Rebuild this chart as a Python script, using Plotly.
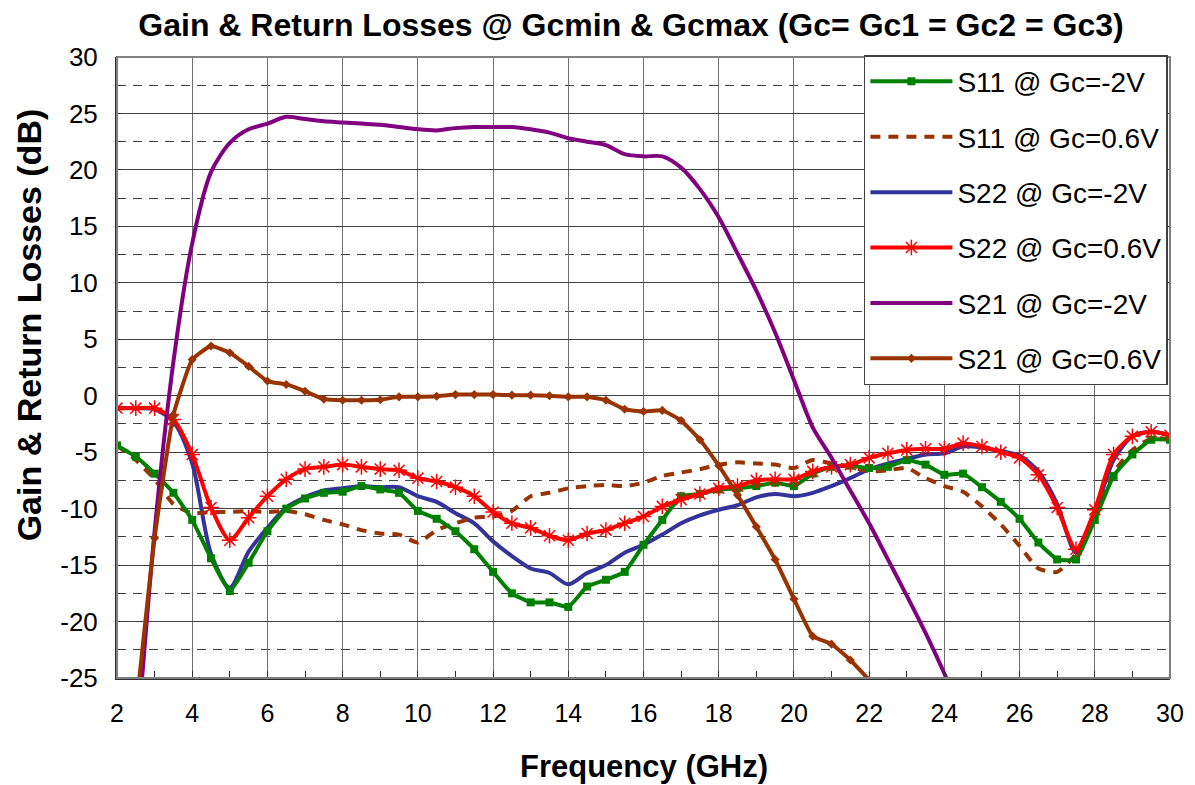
import plotly.graph_objects as go

freq = [2.0, 2.5, 3.0, 3.5, 4.0, 4.5, 5.0, 5.5, 6.0, 6.5, 7.0, 7.5, 8.0, 8.5, 9.0, 9.5,
        10.0, 10.5, 11.0, 11.5, 12.0, 12.5, 13.0, 13.5, 14.0, 14.5, 15.0, 15.5, 16.0, 16.5,
        17.0, 17.5, 18.0, 18.5, 19.0, 19.5, 20.0, 20.5, 21.0, 21.5, 22.0, 22.5, 23.0, 23.5,
        24.0, 24.5, 25.0, 25.5, 26.0, 26.5, 27.0, 27.5, 28.0, 28.5, 29.0, 29.5, 30.0]

s11_m2 = [-4.4, -5.4, -6.9, -8.6, -11.0, -14.4, -17.3, -14.8, -12.0, -10.0, -9.1, -8.6, -8.5, -8.0,
          -8.3, -8.6, -10.2, -10.9, -12.0, -13.6, -15.6, -17.5, -18.3, -18.3, -18.7, -16.9, -16.3,
          -15.6, -13.2, -11.0, -8.9, -8.7, -8.3, -8.2, -8.0, -7.7, -8.0, -6.9, -6.3, -6.2, -6.4,
          -6.3, -5.7, -6.1, -7.0, -6.9, -8.1, -9.4, -10.9, -13.0, -14.5, -14.5, -11.0, -7.1, -5.2,
          -3.9, -3.9]

s11_06 = [-4.4, -5.7, -7.4, -9.6, -10.4, -10.3, -10.3, -10.2, -10.3, -10.2, -10.5, -11.0, -11.4,
          -11.9, -12.2, -12.3, -13.0, -11.9, -11.3, -10.8, -10.7, -10.2, -8.9, -8.6, -8.2, -8.0,
          -7.9, -8.0, -7.7, -7.1, -6.8, -6.5, -6.1, -5.9, -6.0, -6.1, -6.4, -5.7, -6.0, -6.3, -6.7,
          -6.6, -6.4, -7.3, -8.0, -8.5, -9.8, -11.4, -13.3, -15.3, -15.6, -14.0, -10.5, -6.8, -4.8,
          -3.8, -3.8]

s22_m2 = [-1.1, -1.1, -1.2, -2.3, -6.0, -14.0, -17.0, -13.8, -11.7, -9.9, -9.0, -8.4, -8.2, -8.0,
          -8.1, -8.1, -8.9, -9.4, -10.4, -11.3, -12.9, -14.2, -15.3, -15.7, -16.7, -15.7, -15.0,
          -13.9, -13.2, -12.3, -11.3, -10.6, -10.1, -9.7, -9.0, -8.7, -8.9, -8.6, -8.0, -7.3, -6.5,
          -6.0, -5.6, -5.2, -5.1, -4.5, -4.6, -4.9, -5.3, -6.7, -9.6, -13.9, -10.4, -5.7, -3.6,
          -3.2, -3.5]

s22_06 = [-1.1, -1.1, -1.1, -2.1, -5.2, -9.9, -12.8, -10.8, -8.9, -7.4, -6.5, -6.3, -6.1, -6.3,
          -6.5, -6.6, -7.3, -7.6, -8.1, -8.9, -10.3, -11.3, -11.7, -12.4, -12.8, -12.2, -11.9,
          -11.3, -10.7, -9.8, -9.2, -8.7, -8.2, -8.0, -7.5, -7.4, -7.4, -6.7, -6.3, -6.1, -5.5,
          -5.1, -4.8, -4.7, -4.7, -4.2, -4.5, -5.0, -5.5, -7.0, -9.9, -13.6, -10.1, -5.2, -3.6,
          -3.2, -3.5]

s21_m2 = [None, -32.0, -12.0, 3.0, 13.5, 19.8, 22.4, 23.6, 24.1, 24.7, 24.5, 24.3, 24.2, 24.1,
          24.0, 23.8, 23.6, 23.5, 23.7, 23.8, 23.8, 23.8, 23.6, 23.3, 22.8, 22.5, 22.2, 21.4,
          21.2, 21.2, 20.2, 18.3, 15.8, 12.6, 9.3, 5.6, 1.4, -2.8, -5.5, -8.4, -11.3, -14.5,
          -17.7, -21.0, -24.6, -28.5, -32.0, None, None, None, None, None, None, None, None,
          None, None]

s21_06 = [None, -28.0, -12.6, -1.7, 3.2, 4.4, 3.8, 2.6, 1.3, 1.0, 0.4, -0.3, -0.4, -0.4, -0.35,
          -0.1, -0.1, -0.05, 0.1, 0.1, 0.1, 0.05, 0.05, 0.0, -0.1, -0.1, -0.4, -1.2, -1.4, -1.3,
          -2.2, -3.9, -6.2, -8.8, -11.6, -14.5, -18.0, -21.3, -22.0, -23.4, -25.2, -27.5, -30.0,
          None, None, None, None, None, None, None, None, None, None, None, None, None, None]

names = ["S11 @ Gc=-2V", "S11 @ Gc=0.6V", "S22 @ Gc=-2V", "S22 @ Gc=0.6V",
         "S21 @ Gc=-2V", "S21 @ Gc=0.6V"]

x_ticks = [2, 4, 6, 8, 10, 12, 14, 16, 18, 20, 22, 24, 26, 28, 30]
y_ticks = [30, 25, 20, 15, 10, 5, 0, -5, -10, -15, -20, -25]

GREEN = "#008000"
BROWN = "#993300"
BLUE = "#333399"
RED = "#FF0000"
PURPLE = "#800080"

fig = go.Figure()
LW = 4

# draw order: blue, dashed, green, red, purple, brown
fig.add_trace(go.Scatter(x=freq, y=s22_m2, name=names[2], mode="lines",
                         line=dict(color=BLUE, width=LW, shape="spline", smoothing=0.8),
                         legendgroup="g3", legendrank=3))
fig.add_trace(go.Scatter(x=freq, y=s11_06, name=names[1], mode="lines",
                         line=dict(color=BROWN, width=LW, dash="10px,8px", shape="spline", smoothing=0.6),
                         legendgroup="g2", legendrank=2))
fig.add_trace(go.Scatter(x=freq, y=s11_m2, name=names[0], mode="lines+markers",
                         line=dict(color=GREEN, width=LW, shape="spline", smoothing=0.4),
                         marker=dict(symbol="square", size=8, color=GREEN),
                         legendgroup="g1", legendrank=1))
fig.add_trace(go.Scatter(x=freq, y=s22_06, name=names[3], mode="lines+markers",
                         line=dict(color=RED, width=LW, shape="spline", smoothing=0.7),
                         marker=dict(symbol="asterisk-open", size=13, color=RED,
                                     line=dict(color=RED, width=1.5)),
                         legendgroup="g4", legendrank=4))
fig.add_trace(go.Scatter(x=freq, y=s21_m2, name=names[4], mode="lines",
                         line=dict(color=PURPLE, width=LW, shape="spline", smoothing=0.8),
                         legendgroup="g5", legendrank=5))
fig.add_trace(go.Scatter(x=freq, y=s21_06, name=names[5], mode="lines+markers",
                         line=dict(color=BROWN, width=LW, shape="spline", smoothing=0.4),
                         marker=dict(symbol="diamond", size=7, color=BROWN),
                         legendgroup="g6", legendrank=6))

ARIAL = "Liberation Sans, Arial, sans-serif"

# page body has an 8px margin: figure is 8px smaller and margins shifted accordingly
fig.update_layout(
    width=1187, height=777,
    margin=dict(l=109, r=25, t=49, b=107, autoexpand=False),
    paper_bgcolor="white", plot_bgcolor="white",
    showlegend=True,
    legend=dict(x=0.998, y=1.003, xanchor="right", yanchor="top",
                bgcolor="white", bordercolor="#404040", borderwidth=1.5,
                font=dict(family=ARIAL, size=28, color="black"),
                traceorder="grouped", tracegroupgap=16, itemwidth=82),
    xaxis=dict(range=[2, 30], tickvals=x_ticks, ticktext=[str(v) for v in x_ticks],
               showgrid=True, gridcolor="#707070", gridwidth=1,
               showline=True, linecolor="#303030", linewidth=2, mirror=False,
               ticks="inside", ticklen=7, tickcolor="#303030",
               minor=dict(dtick=1, ticks="inside", ticklen=7, tickcolor="#303030", showgrid=False),
               tickfont=dict(family=ARIAL, size=25, color="black"), zeroline=False,
               ticklabelstandoff=12),
    yaxis=dict(range=[-25, 30], tickvals=y_ticks, ticktext=[str(v) for v in y_ticks],
               showgrid=True, gridcolor="#404040", gridwidth=1,
               showline=True, linecolor="#303030", linewidth=2,
               ticks="inside", ticklen=5, tickcolor="#303030",
               minor=dict(dtick=2.5, tick0=0, showgrid=True, gridcolor="#404040",
                          griddash="9px,7px", gridwidth=1, ticks="inside", ticklen=5),
               tickfont=dict(family=ARIAL, size=26, color="black"), zeroline=False,
               ticklabelstandoff=12),
    title=dict(text="<b>Gain & Return Losses @ Gcmin & Gcmax (Gc= Gc1 = Gc2 = Gc3)</b>",
               x=623 / 1187, xanchor="center", y=1 - 17 / 777, yanchor="middle",
               font=dict(family=ARIAL, size=32, color="black")),
    annotations=[
        dict(text="<b>Gain & Return Losses (dB)</b>", xref="paper", yref="paper",
             x=-0.0835, y=0.568, xanchor="center", yanchor="middle", showarrow=False,
             textangle=-90, font=dict(family=ARIAL, size=34, color="black")),
        dict(text="<b>Frequency (GHz)</b>", xref="paper", yref="paper",
             x=0.5, y=-0.143, xanchor="center", yanchor="middle", showarrow=False,
             font=dict(family=ARIAL, size=31, color="black")),
    ],
    shapes=[dict(type="rect", xref="paper", yref="paper", x0=0, y0=0, x1=1, y1=1,
                 line=dict(color="#808080", width=2), layer="above")],
)

fig.write_html("out.html")
